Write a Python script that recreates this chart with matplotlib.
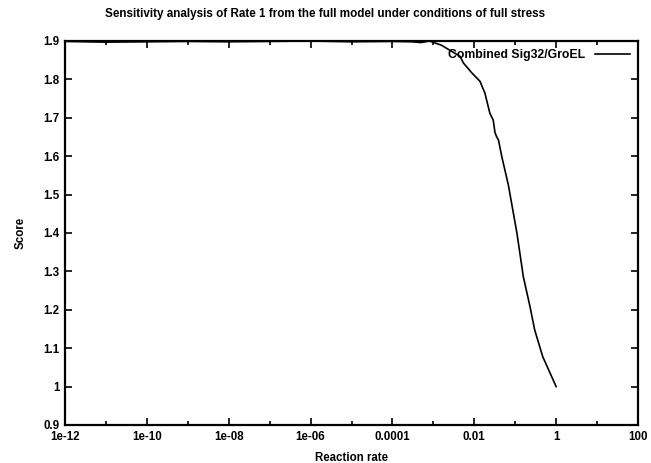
import matplotlib
matplotlib.use("Agg")
import matplotlib.pyplot as plt
from matplotlib.ticker import FixedLocator, NullFormatter

plt.rcParams['font.family'] = ['Liberation Sans', 'DejaVu Sans']
plt.rcParams['font.weight'] = 'bold'
plt.rcParams['axes.titleweight'] = 'bold'
plt.rcParams['axes.labelweight'] = 'bold'

# Sensitivity sweep of Rate 1 (full model, full stress)
rate = [1e-12, 1e-11, 1e-10, 1e-9, 1e-8, 1e-7, 1e-6, 1e-5, 1e-4,
        3e-4, 5e-4, 8e-4, 1.58e-3, 4.5e-3, 5.4e-3, 8.7e-3, 1.38e-2,
        1.82e-2, 2.4e-2, 2.9e-2, 3.2e-2, 3.5e-2, 3.9e-2, 4.7e-2, 6.8e-2,
        0.11, 0.158, 0.23, 0.30, 0.47, 1.0]
score = [1.899, 1.897, 1.898, 1.899, 1.898, 1.899, 1.900, 1.898, 1.899,
         1.898, 1.896, 1.900, 1.889, 1.860, 1.843, 1.817, 1.795,
         1.764, 1.712, 1.694, 1.662, 1.651, 1.642, 1.599, 1.525,
         1.400, 1.286, 1.208, 1.147, 1.078, 1.000]

x_ticks = [1e-12, 1e-10, 1e-8, 1e-6, 1e-4, 1e-2, 1, 100]
x_labels = ["1e-12", "1e-10", "1e-08", "1e-06", "0.0001", "0.01", "1", "100"]
x_minor = [1e-11, 1e-9, 1e-7, 1e-5, 1e-3, 1e-1, 10]
y_ticks = [0.9, 1.0, 1.1, 1.2, 1.3, 1.4, 1.5, 1.6, 1.7, 1.8, 1.9]
y_labels = ["0.9", "1", "1.1", "1.2", "1.3", "1.4", "1.5", "1.6", "1.7", "1.8", "1.9"]

fig = plt.figure(figsize=(6.51, 4.63), dpi=100)
ax = fig.add_axes([65 / 651, 1 - 425 / 463, (638 - 65) / 651, (425 - 41) / 463])

ax.plot(rate, score, color="black", linewidth=1.2, label="Combined Sig32/GroEL")

ax.set_xscale("log")
ax.set_xlim(1e-12, 100)
ax.set_ylim(0.9, 1.9)

ax.xaxis.set_major_locator(FixedLocator(x_ticks))
ax.set_xticklabels(x_labels)
ax.xaxis.set_minor_locator(FixedLocator(x_minor))
ax.xaxis.set_minor_formatter(NullFormatter())
ax.set_yticks(y_ticks)
ax.set_yticklabels(y_labels)

ax.tick_params(which="major", direction="in", length=5, width=1.2,
               top=True, right=True, labelsize=8.3, pad=4)
ax.tick_params(which="minor", direction="in", length=3, width=1.2,
               top=True, right=True)

for s in ax.spines.values():
    s.set_linewidth(1.6)

ax.set_xlabel("Reaction rate", fontsize=8.3, labelpad=7)
ax.set_ylabel("Score", fontsize=8.3, labelpad=12)
fig.text(0.5, 1 - 14 / 463,
         "Sensitivity analysis of Rate 1 from the full model under conditions of full stress",
         ha="center", va="center", fontsize=8.4, fontweight="bold")

leg = ax.legend(loc="upper right", frameon=False, fontsize=8.8, handlelength=2.9,
                markerfirst=False, borderaxespad=0.25, handletextpad=0.8)

fig.savefig("out.png", dpi=100, facecolor="white")
